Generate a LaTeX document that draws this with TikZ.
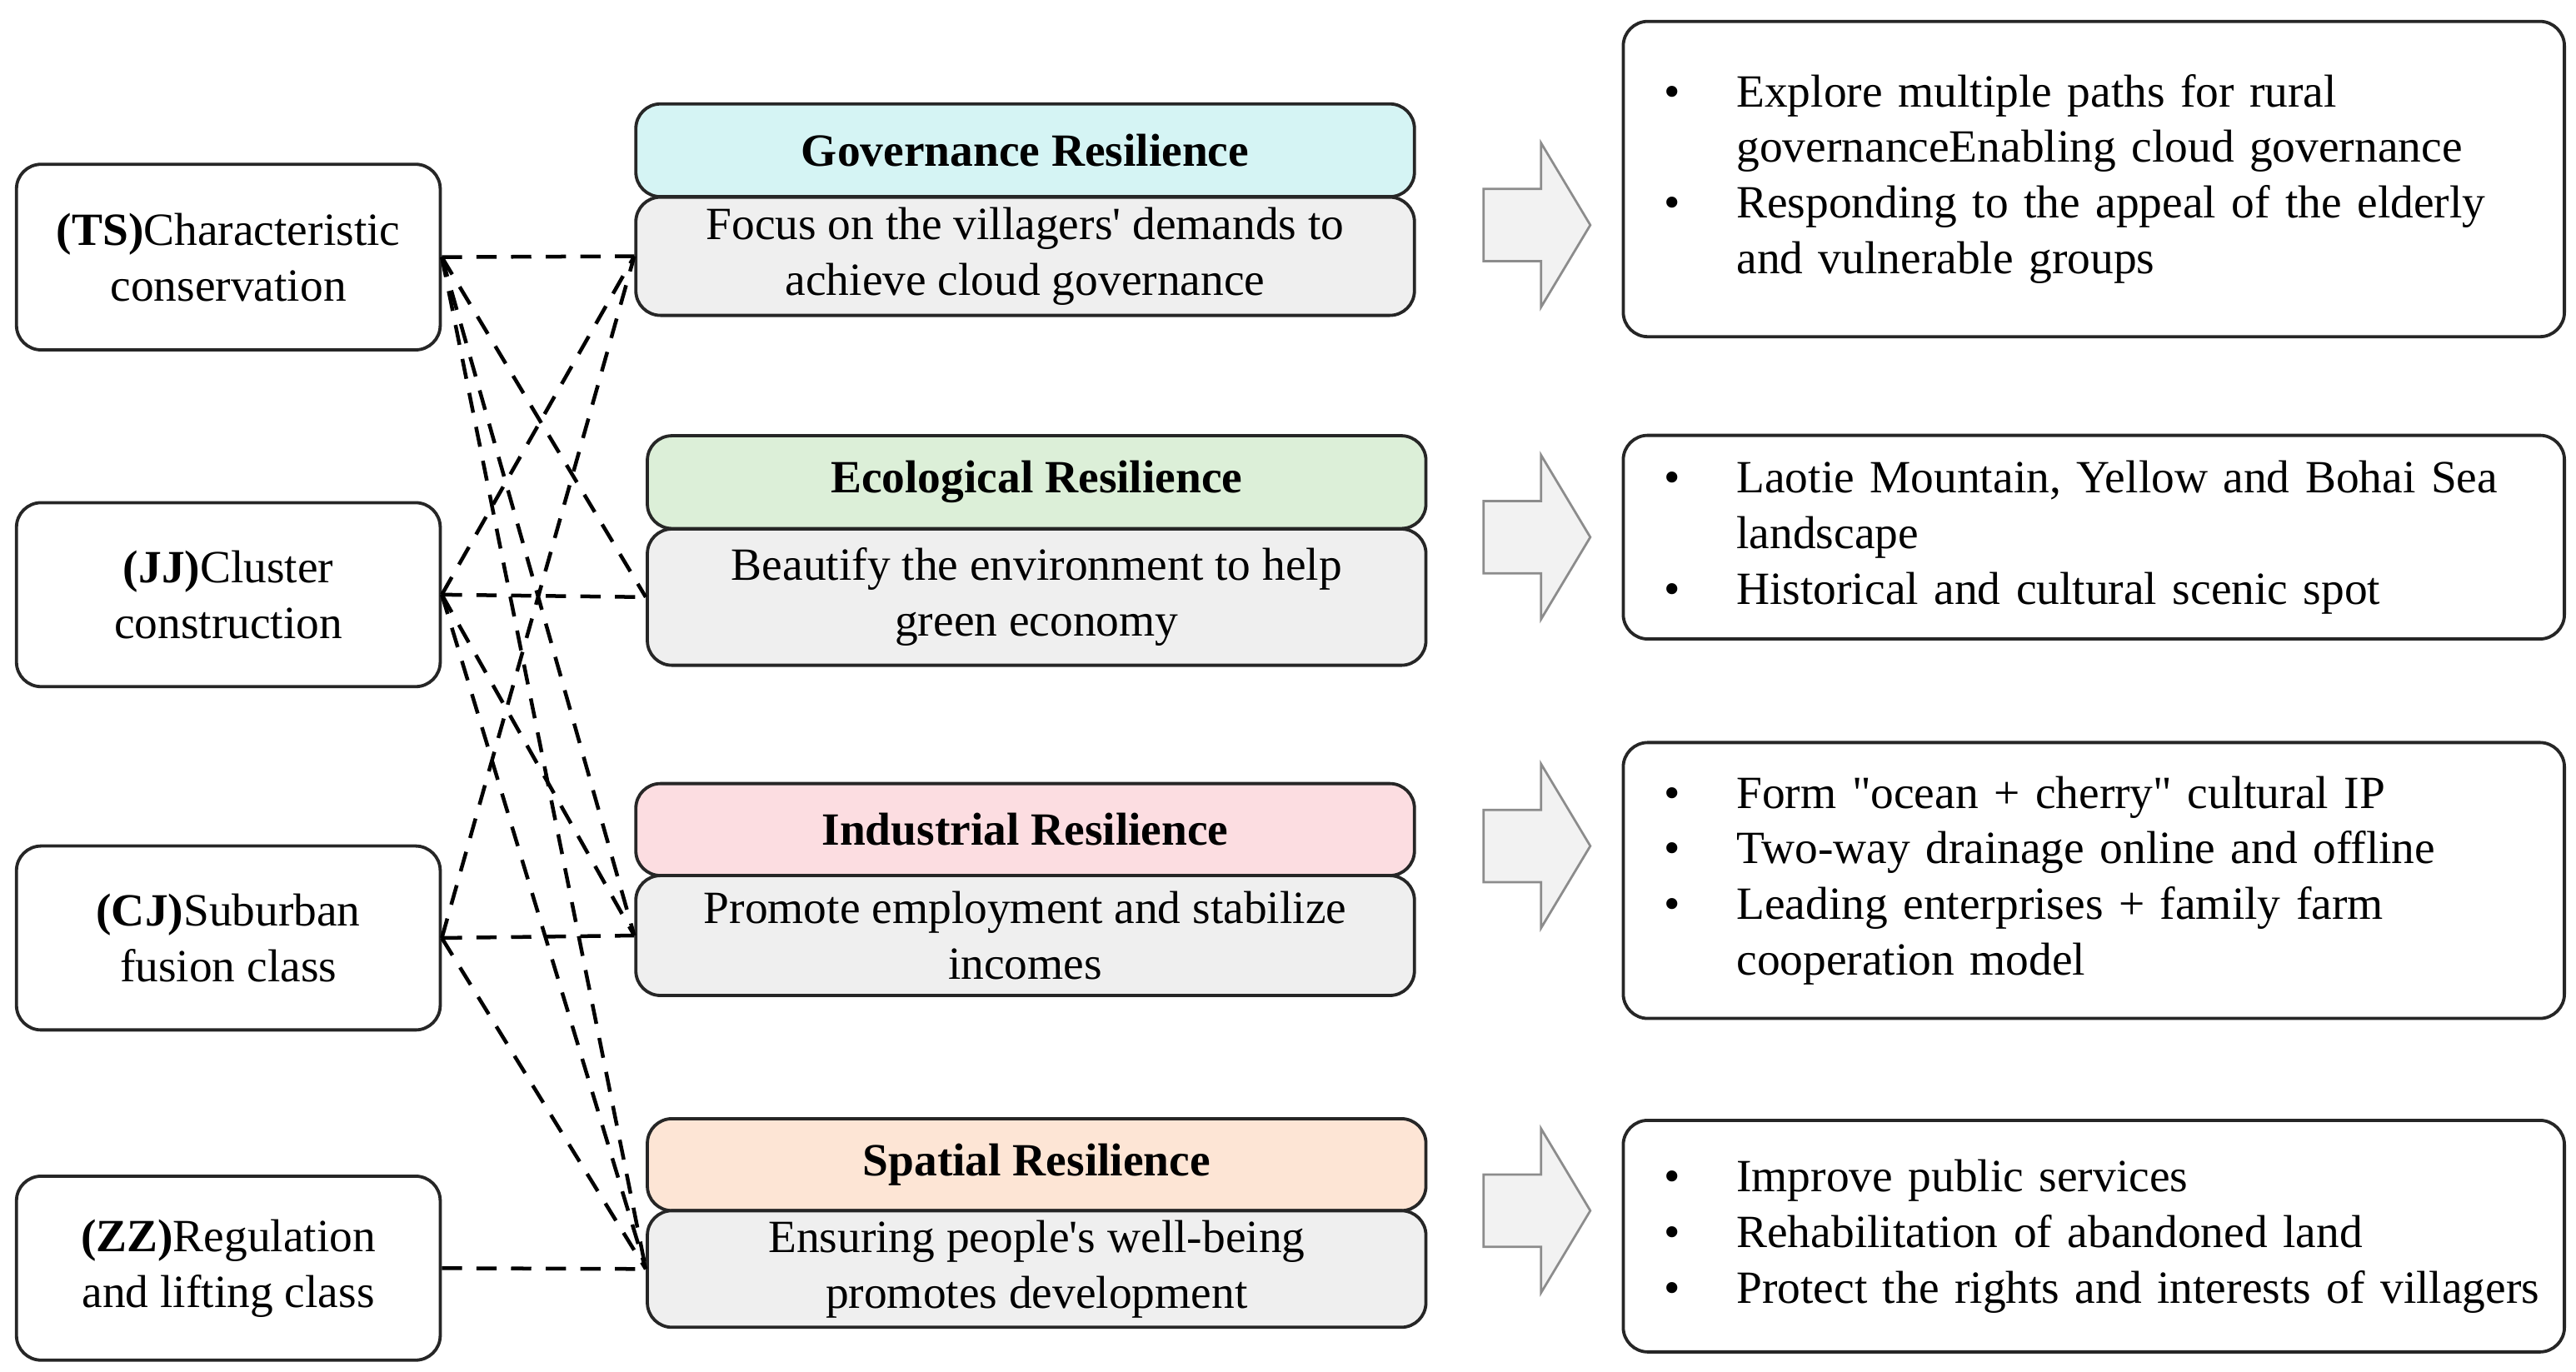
\documentclass[tikz,border=0pt]{standalone}
\usepackage{fontspec}
\setmainfont{Liberation Serif}
\definecolor{govc}{HTML}{D5F4F4}
\definecolor{ecoc}{HTML}{DCEFD8}
\definecolor{indc}{HTML}{FCDDE1}
\definecolor{spac}{HTML}{FDE5D5}
\definecolor{bodc}{HTML}{EFEFEF}
\definecolor{arrc}{HTML}{F2F2F2}
\newcommand\rlist[1]{\hspace*{0.5cm}\begin{tabular}{@{}p{0.88cm}@{}l@{}}#1\end{tabular}}
\begin{document}
\begin{tikzpicture}[x=0.02cm,y=-0.02cm,
  every node/.style={font=\fontsize{16}{19.3}\selectfont},
  bx/.style={draw=black!85,line width=1.1pt,rounded corners=0.3cm,align=center,inner sep=0pt},
  lft/.style={bx,minimum width=5.16cm,minimum height=2.24cm},
  hd/.style={bx,minimum width=9.48cm,minimum height=1.13cm,font=\fontsize{16}{19.3}\selectfont\bfseries},
  bd/.style={bx,fill=bodc,minimum width=9.48cm},
  rt/.style={bx,text width=11.46cm,align=left},
  con/.style={line width=1.3pt,dash pattern=on 7pt off 5pt},
  barr/.style={draw=black!45,fill=arrc,line width=0.8pt}]
\useasboundingbox (0,0) rectangle (1568,835);
% left
\node[lft,minimum height=2.26cm] (TS) at (139,156.5) {\textbf{(TS)}Characteristic\\conservation};
\node[lft] (JJ) at (139,362) {\textbf{(JJ)}Cluster\\construction};
\node[lft] (CJ) at (139,571) {\textbf{(CJ)}Suburban\\fusion class};
\node[lft] (ZZ) at (139,772) {\textbf{(ZZ)}Regulation\\and lifting class};
% middle
\node[hd,fill=govc] (govh) at (624,91.5) {Governance Resilience};
\node[bd,minimum height=1.44cm] (govb) at (624,156) {Focus on the villagers\textquotesingle{} demands to\\achieve cloud governance};
\node[hd,fill=ecoc] (ecoh) at (631,293.5) {Ecological Resilience};
\node[bd,minimum height=1.66cm] (ecob) at (631,363.5) {Beautify the environment to help\\green economy};
\node[hd,fill=indc,minimum height=1.12cm] (indh) at (624,505) {Industrial Resilience};
\node[bd,minimum height=1.46cm] (indb) at (624,569.5) {Promote employment and stabilize\\incomes};
\node[hd,fill=spac,minimum height=1.12cm] (spah) at (631,709) {Spatial Resilience};
\node[bd,minimum height=1.42cm] (spab) at (631,772.5) {Ensuring people\textquotesingle{}s well-being\\promotes development};
% right
\node[rt,minimum height=3.84cm] (r1) at (1274.5,109) {\rlist{
• & Explore multiple paths for rural\\
 & governanceEnabling cloud governance\\
• & Responding to the appeal of the elderly\\
 & and vulnerable groups}};
\node[rt,minimum height=2.48cm] (r2) at (1274.5,327) {\rlist{
• & Laotie Mountain, Yellow and Bohai Sea\\
 & landscape\\
• & Historical and cultural scenic spot}};
\node[rt,minimum height=3.36cm] (r3) at (1274.5,536) {\rlist{
• & Form \textquotedbl ocean + cherry\textquotedbl{} cultural IP\\
• & Two-way drainage online and offline\\
• & Leading enterprises + family farm\\
 & cooperation model}};
\node[rt,minimum height=2.82cm] (r4) at (1274.5,752.5) {\rlist{
• & Improve public services\\
• & Rehabilitation of abandoned land\\
• & Protect the rights and interests of villagers}};
% block arrows
\foreach \yy in {137,327,515,737}{
  \draw[barr] (903,\yy-22) -- (938,\yy-22) -- (938,\yy-50) -- (968,\yy) -- (938,\yy+50) -- (938,\yy+22) -- (903,\yy+22) -- cycle;
}
% connectors
\draw[con] (TS.east) -- (govb.west);
\draw[con] (TS.east) -- (ecob.west);
\draw[con] (TS.east) -- (indb.west);
\draw[con] (TS.east) -- (spab.west);
\draw[con] (JJ.east) -- (govb.west);
\draw[con] (JJ.east) -- (ecob.west);
\draw[con] (JJ.east) -- (indb.west);
\draw[con] (JJ.east) -- (spab.west);
\draw[con] (CJ.east) -- (govb.west);
\draw[con] (CJ.east) -- (indb.west);
\draw[con] (CJ.east) -- (spab.west);
\draw[con] (ZZ.east) -- (spab.west);
\end{tikzpicture}
\end{document}
